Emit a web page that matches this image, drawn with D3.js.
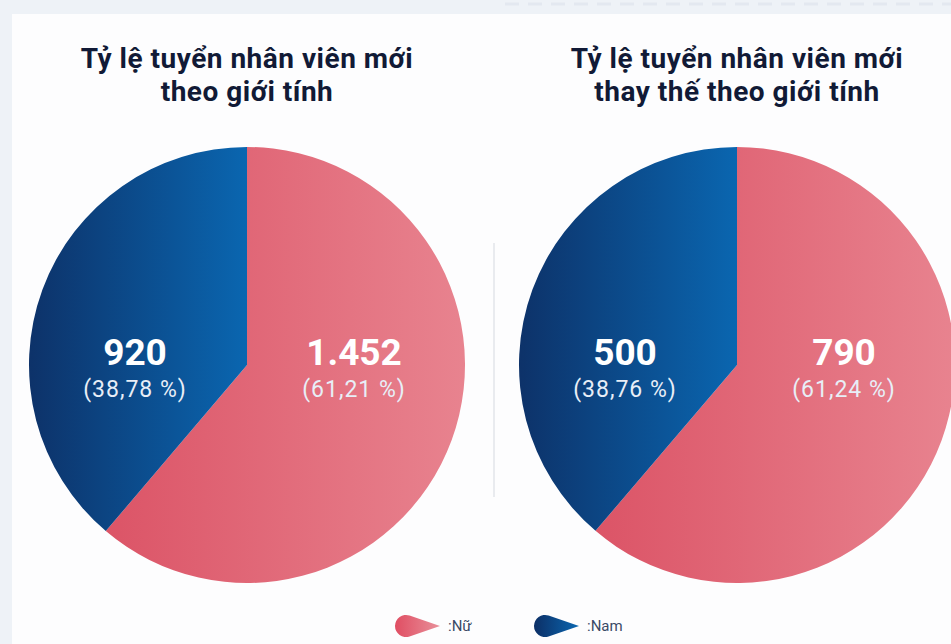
<!DOCTYPE html>
<html lang="vi">
<head>
    <meta charset="UTF-8">
    <title>Tỷ lệ tuyển nhân viên mới theo giới tính</title>
    <script src="https://d3js.org/d3.v7.min.js"></script>
    <style>
        body {
            margin: 0;
            background: #eef2f7;
        }
        svg {
            display: block;
        }
        .title {
            font-family: Roboto, "Noto Sans", sans-serif;
            font-weight: 700;
            font-size: 28px;
            letter-spacing: 0.5px;
            fill: #111a36;
        }
        .value {
            font-family: Roboto, "Noto Sans", sans-serif;
            font-weight: 700;
            font-size: 37px;
            fill: #ffffff;
        }
        .pct {
            font-family: Roboto, "Noto Sans", sans-serif;
            font-size: 23px;
            letter-spacing: 1px;
            fill: #e8eef7;
        }
        .legend text {
            font-family: Roboto, "Noto Sans", sans-serif;
            font-size: 15px;
            fill: #3a4a66;
        }
    </style>
</head>
<body>
<script>
    // data
    const genders = ['Nữ', 'Nam'];
    const chartTitles = [
        ['Tỷ lệ tuyển nhân viên mới', 'theo giới tính'],
        ['Tỷ lệ tuyển nhân viên mới', 'thay thế theo giới tính']
    ];
    const hireCounts = [1452, 920];          // Nữ, Nam
    const replaceCounts = [790, 500];        // Nữ, Nam
    const hireValueLabels = ['1.452', '920'];
    const replaceValueLabels = ['790', '500'];
    const hirePctLabels = ['(61,21 %)', '(38,78 %)'];
    const replacePctLabels = ['(61,24 %)', '(38,76 %)'];

    const width = 951, height = 644;
    const radius = 218;

    const svg = d3.select('body').append('svg')
        .attr('width', width)
        .attr('height', height);

    const defs = svg.append('defs');

    // white card
    svg.append('rect')
        .attr('x', 12).attr('y', 14)
        .attr('width', width - 12).attr('height', height - 14)
        .attr('fill', '#fdfdfe');

    // faint dotted strip at top right
    svg.append('line')
        .attr('x1', 505).attr('x2', width)
        .attr('y1', 4).attr('y2', 4)
        .attr('stroke', '#e3e8f0')
        .attr('stroke-width', 3)
        .attr('stroke-dasharray', '14 9');

    const color = d3.scaleOrdinal().domain(genders).range(['pink', 'blue']);

    const charts = [
        { cx: 247, titles: chartTitles[0], counts: hireCounts, values: hireValueLabels, pcts: hirePctLabels },
        { cx: 737, titles: chartTitles[1], counts: replaceCounts, values: replaceValueLabels, pcts: replacePctLabels }
    ];
    const cy = 365;

    // gradients live in each pie group's own (centred) coordinate space
    const pinkGrad = defs.append('linearGradient')
        .attr('id', 'pink')
        .attr('gradientUnits', 'userSpaceOnUse')
        .attr('x1', -radius).attr('x2', radius).attr('y1', 0).attr('y2', 0);
    pinkGrad.append('stop').attr('offset', '0%').attr('stop-color', '#d94a5e');
    pinkGrad.append('stop').attr('offset', '100%').attr('stop-color', '#e8838f');

    const blueGrad = defs.append('linearGradient')
        .attr('id', 'blue')
        .attr('gradientUnits', 'userSpaceOnUse')
        .attr('x1', -radius).attr('x2', radius).attr('y1', 0).attr('y2', 0);
    blueGrad.append('stop').attr('offset', '0%').attr('stop-color', '#0d3269');
    blueGrad.append('stop').attr('offset', '50%').attr('stop-color', '#0a66b0');
    blueGrad.append('stop').attr('offset', '100%').attr('stop-color', '#0a66b0');

    const pie = d3.pie().sort(null).value(d => d);
    const arc = d3.arc().innerRadius(0).outerRadius(radius);

    charts.forEach((c, i) => {
        const g = svg.append('g').attr('transform', `translate(${c.cx},${cy})`);

        g.selectAll('path')
            .data(pie(c.counts))
            .enter().append('path')
            .attr('d', arc)
            .attr('fill', (d, j) => `url(#${color(genders[j])})`);

        // labels: Nữ on right, Nam on left
        const labelX = [107, -112];
        genders.forEach((gname, j) => {
            g.append('text').attr('class', 'value')
                .attr('x', labelX[j]).attr('y', 0)
                .attr('text-anchor', 'middle')
                .text(c.values[j]);
            g.append('text').attr('class', 'pct')
                .attr('x', labelX[j]).attr('y', 32)
                .attr('text-anchor', 'middle')
                .text(c.pcts[j]);
        });

        c.titles.forEach((t, k) => {
            svg.append('text').attr('class', 'title')
                .attr('x', c.cx).attr('y', 68 + k * 33)
                .attr('text-anchor', 'middle')
                .text(t);
        });
    });

    // divider
    svg.append('line')
        .attr('x1', 494).attr('x2', 494)
        .attr('y1', 243).attr('y2', 497)
        .attr('stroke', '#dcdfe4')
        .attr('stroke-width', 1.2);

    // legend: teardrop markers
    const legendGrad = [['#e04e63', '#e8909a'], ['#0c2f66', '#0b67b1']];
    legendGrad.forEach((cols, j) => {
        const lg = defs.append('linearGradient').attr('id', 'leg' + j);
        lg.append('stop').attr('offset', '0%').attr('stop-color', cols[0]);
        lg.append('stop').attr('offset', '100%').attr('stop-color', cols[1]);
    });

    function drop(x, y, r, len) {
        // round on the left, pointed on the right
        const tipX = x + len;
        const d = tipX - x;
        const a = Math.acos(r / d);
        const p = d3.path();
        p.moveTo(tipX, y);
        p.lineTo(x + r * Math.cos(a), y - r * Math.sin(a));
        p.arc(x, y, r, -a, a, true);
        p.closePath();
        return p.toString();
    }

    const legendX = [406, 545];
    const legend = svg.append('g').attr('class', 'legend');
    genders.forEach((gname, j) => {
        legend.append('path')
            .attr('d', drop(legendX[j], 626, 11, 34))
            .attr('fill', `url(#leg${j})`);
        legend.append('text')
            .attr('x', legendX[j] + 42).attr('y', 631)
            .text(':' + gname);
    });
</script>
</body>
</html>
